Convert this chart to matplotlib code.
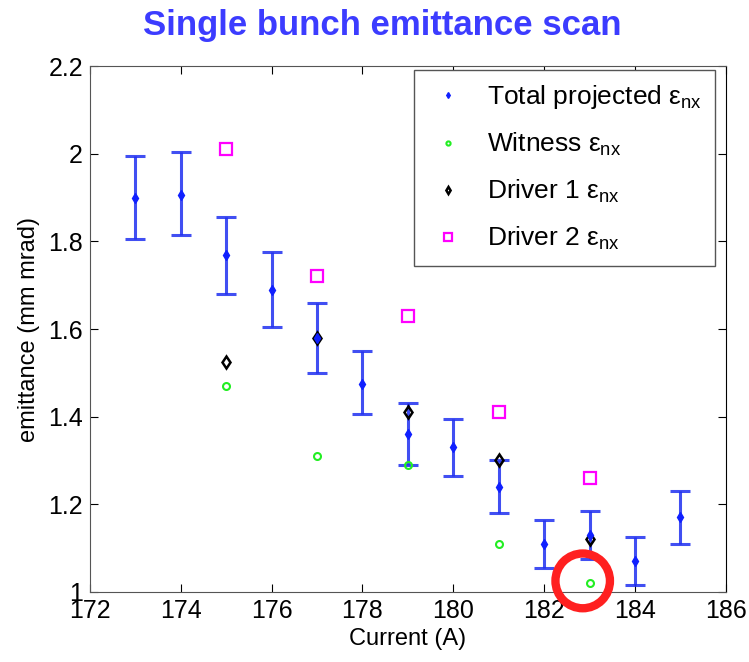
import matplotlib.pyplot as plt
from matplotlib.patches import Ellipse

plt.rcParams['font.family'] = ['Liberation Sans', 'DejaVu Sans']
plt.rcParams['mathtext.fontset'] = 'custom'
plt.rcParams['mathtext.rm'] = 'Liberation Sans'
plt.rcParams['mathtext.it'] = 'Liberation Sans'

# Total projected emittance with error bars
current = [173, 174, 175, 176, 177, 178, 179, 180, 181, 182, 183, 184, 185]
total = [1.90, 1.905, 1.77, 1.69, 1.58, 1.475, 1.36, 1.33, 1.24, 1.11, 1.13, 1.07, 1.17]
total_lo = [1.805, 1.815, 1.68, 1.605, 1.50, 1.405, 1.29, 1.265, 1.18, 1.055, 1.075, 1.015, 1.11]
total_hi = [1.995, 2.005, 1.855, 1.775, 1.66, 1.55, 1.43, 1.395, 1.30, 1.165, 1.185, 1.125, 1.23]

# Slice emittances
slice_current = [175, 177, 179, 181, 183]
witness = [1.47, 1.31, 1.29, 1.11, 1.02]
driver1 = [1.525, 1.58, 1.41, 1.30, 1.12]
driver2 = [2.01, 1.72, 1.63, 1.41, 1.26]

fig = plt.figure(figsize=(7.49, 6.62), dpi=100)
ax = fig.add_axes([0.120, 0.106, 0.849, 0.794])

err_lo = [t - l for t, l in zip(total, total_lo)]
err_hi = [h - t for t, h in zip(total, total_hi)]
ax.errorbar(current, total, yerr=[err_lo, err_hi], fmt='none', ecolor='#2030f0',
            elinewidth=2.2, capsize=7, capthick=2.2, alpha=0.85, zorder=2)

ax.plot(current, total, 'd', color='#1020ff', markersize=5, markerfacecolor='#1020ff',
        label=r'Total projected $\varepsilon_{\mathrm{nx}}$', zorder=4)
ax.plot(slice_current, witness, 'o', color='#22ee22', markersize=5, markerfacecolor='none',
        markeredgewidth=1.5, label=r'Witness $\varepsilon_{\mathrm{nx}}$', zorder=3)
ax.plot(slice_current, driver1, 'd', color='black', markersize=6, markerfacecolor='none',
        markeredgewidth=1.8, label=r'Driver 1 $\varepsilon_{\mathrm{nx}}$', zorder=3)
ax.plot(slice_current, driver2, 's', color='#ff00ff', markersize=9, markerfacecolor='none',
        markeredgewidth=1.6, label=r'Driver 2 $\varepsilon_{\mathrm{nx}}$', zorder=3)

ax.set_xlim(172, 186)
ax.set_ylim(1.0, 2.2)
ax.set_xticks(range(172, 187, 2))
ax.set_yticks([1, 1.2, 1.4, 1.6, 1.8, 2, 2.2])
ax.set_yticklabels(['1', '1.2', '1.4', '1.6', '1.8', '2', '2.2'])
ax.tick_params(direction='in', top=True, right=True, labelsize=18, length=6)
ax.tick_params(axis='x', pad=5)
ax.tick_params(axis='y', pad=5)
for s in ax.spines.values():
    s.set_color('#555555')
ax.spines['right'].set_color('black')
ax.set_xlabel('Current (A)', fontsize=17, labelpad=4)
ax.set_ylabel('emittance (mm mrad)', fontsize=17, labelpad=6)

leg = ax.legend(loc='upper right', bbox_to_anchor=(0.99, 1.0), borderaxespad=0.15,
                fontsize=19, handletextpad=0.7, borderpad=0.5,
                labelspacing=0.75, fancybox=False, framealpha=1, edgecolor='#555555',
                markerscale=0.6, handlelength=1.6)
leg.get_frame().set_linewidth(1.0)

fig.suptitle('Single bunch emittance scan', fontsize=25, fontweight='bold',
             color='#3c3cff', y=0.987, x=0.511)

# red circle highlighting the witness point
circ = Ellipse((182.85, 1.025), width=1.2, height=0.125, fill=False, edgecolor='#ff2020',
               linewidth=6, clip_on=False, zorder=5)
ax.add_patch(circ)

fig.savefig('out.png', dpi=100)
